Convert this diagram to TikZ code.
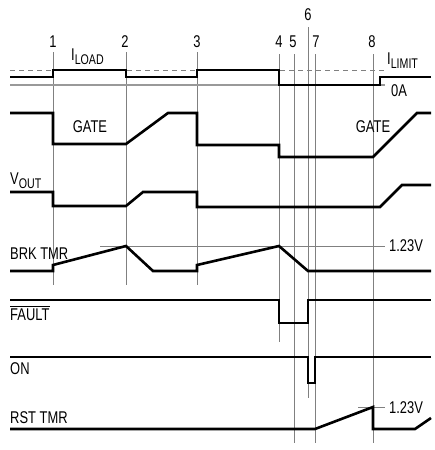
\documentclass[tikz,border=0pt]{standalone}
\usepackage{fontspec}
\setmainfont{Liberation Sans}[FakeStretch=0.76]
\newcommand{\mysub}[1]{\raisebox{-4pt}{\fontsize{14}{14}\selectfont #1}}
\begin{document}
\begin{tikzpicture}[x=1pt,y=-1pt,
  sig/.style={line width=2.6pt,line join=miter,black},
  grid/.style={line width=0.8pt,black!50},
  lbl/.style={inner sep=0pt,font=\fontsize{17}{20}\selectfont},
  num/.style={lbl}]
\useasboundingbox (0,0) rectangle (435,450);
% vertical marker lines
\draw[grid] (53,52) -- (53,285);
\draw[grid] (126,52) -- (126,285);
\draw[grid] (197,52) -- (197,285);
\draw[grid] (279,54) -- (279,342);
\draw[grid] (294,54) -- (294,443);
\draw[grid] (308,27) -- (308,398);
\draw[grid] (315,54) -- (315,443);
\draw[grid] (373,54) -- (373,443);
% numbers
\node[num] (n1) at (53,42) {1};
\node[num] (n2) at (125,42) {2};
\node[num] (n3) at (197,42) {3};
\node[num] (n4) at (279,42) {4};
\node[num] (n5) at (293,42) {5};
\node[num] (n6) at (308,15) {6};
\node[num] (n7) at (316,42) {7};
\node[num] (n8) at (372,42) {8};
% I LOAD row
\draw[grid,dashed,dash pattern=on 5pt off 4pt] (10,70) -- (385,70);
\draw[line width=1.6pt,black!40] (10,85) -- (385,85);
\draw[sig] (10,77) -- (53,77) -- (53,70) -- (126,70) -- (126,77) -- (197,77) -- (197,70) -- (279,70) -- (279,85) -- (380,85) -- (380,77) -- (431,77);
\node[lbl,anchor=west] (iload) at (71,57) {I\mysub{LOAD}};
\node[lbl,anchor=west] (ilimit) at (387,61) {I\mysub{LIMIT}};
\node[lbl,anchor=west] (zeroa) at (391,91) {0A};
% GATE row
\draw[sig] (10,113) -- (53,113) -- (53,144) -- (126,144) -- (168,113) -- (197,113) -- (197,145) -- (279,145) -- (279,157) -- (373,157) -- (417,113) -- (431,113);
\node[lbl] (gate1) at (90,127) {GATE};
\node[lbl] (gate2) at (373,127) {GATE};
% VOUT row
\draw[sig] (10,192) -- (53,192) -- (53,206) -- (126,206) -- (143,192) -- (197,192) -- (197,207) -- (380,207) -- (402,185) -- (431,185);
\node[lbl,anchor=west] (vout) at (10,181) {V\mysub{OUT}};
% BRK TMR row
\draw[grid] (100,246) -- (385,246);
\node[lbl,anchor=west] (v1) at (389,246) {1.23V};
\draw[sig] (10,271) -- (53,271) -- (53,265) -- (126,246) -- (153,271) -- (197,271) -- (197,265) -- (279,246) -- (308,271) -- (431,271);
\node[lbl,anchor=west] (brk) at (10,254) {BRK TMR};
% FAULT row
\draw[sig] (10,300) -- (279,300) -- (279,323) -- (308,323) -- (308,300) -- (431,300);
\node[lbl,anchor=west] (fault) at (10,315) {FAULT};
\draw[line width=0.9pt] ([yshift=2.5pt]fault.north west) -- ([yshift=2.5pt]fault.north east);
% ON row
\draw[sig] (10,357) -- (308,357) -- (308,383) -- (315,383) -- (315,357) -- (431,357);
\node[lbl,anchor=west] (on) at (10,369) {ON};
% RST TMR row
\draw[grid] (358,407) -- (385,407);
\node[lbl,anchor=west] (v2) at (389,408) {1.23V};
\draw[sig] (10,429) -- (315,429) -- (373,407) -- (373,429) -- (415,429) -- (431,418);
\node[lbl,anchor=west] (rst) at (10,418) {RST TMR};
\end{tikzpicture}
\end{document}
